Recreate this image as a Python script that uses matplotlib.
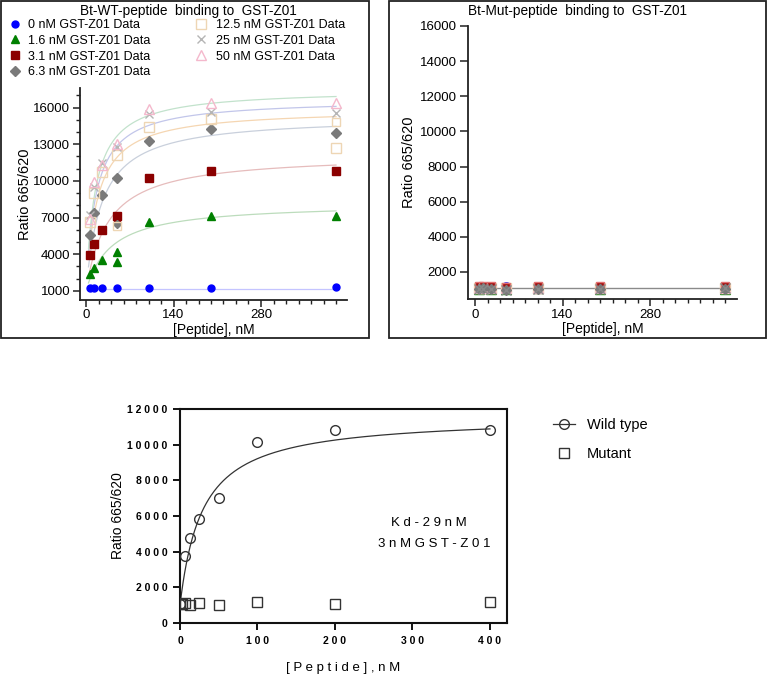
import numpy as np
import matplotlib
matplotlib.use("Agg")
import matplotlib.pyplot as plt
from matplotlib.lines import Line2D
from matplotlib.patches import Rectangle
from matplotlib.ticker import FixedLocator, FuncFormatter

plt.rcParams['font.family'] = ['Liberation Sans', 'DejaVu Sans']

# ---------------- data ----------------
peptide_nM = [6.25, 12.5, 25, 50, 100, 200, 400]

series_labels = ["0 nM GST-Z01 Data", "1.6 nM GST-Z01 Data", "3.1 nM GST-Z01 Data",
                 "6.3 nM GST-Z01 Data", "12.5 nM GST-Z01 Data", "25 nM GST-Z01 Data",
                 "50 nM GST-Z01 Data"]

# WT peptide (top-left)
wt_0nM = [1250, 1250, 1250, 1270, 1250, 1250, 1300]
wt_1p6nM = [2400, 2850, 3500, 4200, 6600, 7100, 7100]
wt_3p1nM = [3900, 4850, 5950, 7100, 10250, 10850, 10850]
wt_6p3nM = [5600, 7350, 8850, 10250, 13300, 14250, 13950]
wt_12p5nM = [6650, 9000, 10750, 12100, 14400, 15100, 12700]
wt_25nM = [7200, 9500, 11450, 12800, 15500, 15650, 15550]
wt_50nM = [6900, 9950, 11300, 13050, 15850, 16350, 16350]
# replicate points that fall off the main trend
rep_x = [50, 50, 50, 50, 400]
rep_y = [3400, 6950, 6500, 6300, 14800]
rep_series = [1, 2, 3, 4, 4]

# one-site fit parameters (bottom, Bmax, Kd) per series
fit_bottom = [1150, 1000, 1000, 1000, 1000, 1000, 1000]
fit_bmax = [0, 7200, 11200, 14300, 14900, 15700, 16500]
fit_kd = [1, 40, 35, 25, 18, 16, 15]

# Mutant peptide (top-right)
mut_0nM = [1150, 1150, 1150, 1180, 1150, 1150, 1160]
mut_1p6nM = [1050, 1060, 1050, 1040, 1060, 1050, 1050]
mut_3p1nM = [1200, 1210, 1200, 1150, 1220, 1180, 1220]
mut_6p3nM = [1050, 1060, 1040, 1000, 1050, 1040, 1050]
mut_12p5nM = [1100, 1100, 1100, 1080, 1100, 1100, 1100]
mut_25nM = [1050, 1040, 1050, 1000, 1050, 1050, 1060]
mut_50nM = [1100, 1100, 1100, 1080, 1100, 1100, 1100]
mut_fit_level = 1100

# Bottom: 3 nM GST-Z01
wt_x = [0, 6.25, 12.5, 25, 50, 100, 200, 400]
wt_y = [1050, 3750, 4750, 5850, 7000, 10150, 10850, 10850]
mutant_x = [0, 3.125, 6.25, 12.5, 25, 50, 100, 200, 400]
mutant_y = [1080, 1080, 1100, 1020, 1130, 1030, 1170, 1060, 1150]
kd_bottom, kd_bmax, kd_value = 1000, 10600, 29

# ---------------- styles ----------------
markers = ['o', '^', 's', 'D', 's', 'x', '^']
face = ['#0000ff', '#008000', '#8b0000', '#7a7a7a', 'none', '#b5b5b5', 'none']
edge = ['#0000ff', '#008000', '#8b0000', '#7a7a7a', '#eed6b4', '#b5b5b5', '#f4b8cc']
msize = [5, 6, 5.5, 4.8, 7, 6, 7]
curve_col = ['#c4c4ff', '#bcdcbc', '#e6bcbc', '#c9d0dc', '#f5d6b2', '#c2c6ea', '#c2e2cc']

W, H = 768, 674
fig = plt.figure(figsize=(W / 100, H / 100), dpi=100)


def fx(px):
    return px / W


def fy(py):
    return 1 - py / H


# panel frames
for (x0, x1) in [(1, 369), (389, 766)]:
    fig.patches.append(Rectangle((fx(x0), fy(338)), fx(x1 - x0), (337) / H,
                                 transform=fig.transFigure, fill=False,
                                 edgecolor='#222222', lw=1.3))


def style_top(ax):
    for s in ['top', 'right']:
        ax.spines[s].set_visible(False)
    for s in ['left', 'bottom']:
        ax.spines[s].set_linewidth(1.3)
        ax.spines[s].set_color('#222222')
    ax.tick_params(which='major', direction='out', length=5, width=1.1, labelsize=9.5,
                   color='#222222', pad=2)
    ax.tick_params(which='minor', direction='out', length=3, width=1.0, color='#222222')


# ---------- top-left ----------
ax1 = fig.add_axes([fx(80), fy(299.5), fx(267), 211.5 / H])
wt_all = [wt_0nM, wt_1p6nM, wt_3p1nM, wt_6p3nM, wt_12p5nM, wt_25nM, wt_50nM]
xs = np.linspace(4, 400, 300)
for i in range(7):
    yfit = fit_bottom[i] + fit_bmax[i] * xs / (fit_kd[i] + xs)
    ax1.plot(xs, yfit, color=curve_col[i], lw=0.9, zorder=1)
for i in range(7):
    ax1.plot(peptide_nM, wt_all[i], linestyle='none', marker=markers[i], ms=msize[i],
             mfc=face[i], mec=edge[i], mew=1.0, zorder=3)
for xr, yr, si in zip(rep_x, rep_y, rep_series):
    ax1.plot([xr], [yr], linestyle='none', marker=markers[si], ms=msize[si] * 0.9,
             mfc=face[si], mec=edge[si], mew=1.0, zorder=3)
ax1.set_xlim(-9.6, 417.6)
ax1.set_ylim(300, 17600)
ax1.xaxis.set_major_locator(FixedLocator([0, 140, 280]))
ax1.xaxis.set_minor_locator(FixedLocator(list(range(0, 421, 20))))
ax1.yaxis.set_major_locator(FixedLocator([1000, 4000, 7000, 10000, 13000, 16000]))
ax1.yaxis.set_minor_locator(FixedLocator(list(range(1000, 17001, 1000))))
style_top(ax1)
ax1.set_xlabel("[Peptide], nM", fontsize=10, labelpad=1)
ax1.set_ylabel("Ratio 665/620", fontsize=10.5, labelpad=1)
fig.text(fx(188), fy(11), "Bt-WT-peptide  binding to  GST-Z01", ha='center', va='center',
         fontsize=9.8)

handles = [Line2D([0], [0], linestyle='none', marker=markers[i], ms=msize[i],
                  mfc=face[i], mec=edge[i], mew=1.0) for i in range(7)]
leg1 = fig.legend(handles[:4], series_labels[:4], loc='upper left',
                  bbox_to_anchor=(fx(7), fy(19)), frameon=False, fontsize=9,
                  handlelength=1.2, handletextpad=0.5, labelspacing=0.3, borderpad=0,
                  borderaxespad=0)
leg2 = fig.legend(handles[4:], series_labels[4:], loc='upper left',
                  bbox_to_anchor=(fx(193), fy(19)), frameon=False, fontsize=9,
                  handlelength=1.2, handletextpad=0.6, labelspacing=0.3, borderpad=0,
                  borderaxespad=0)

# ---------- top-right ----------
ax2 = fig.add_axes([fx(468), fy(299), fx(269), 273 / H])
mut_all = [mut_0nM, mut_1p6nM, mut_3p1nM, mut_6p3nM, mut_12p5nM, mut_25nM, mut_50nM]
ax2.plot([peptide_nM[0], peptide_nM[-1]], [mut_fit_level, mut_fit_level], color='#8a8a8a',
         lw=1.0, zorder=1)
mut_order = [0, 1, 4, 6, 2, 3, 5]
mut_face = ['#3030ff', '#008000', '#a01010', '#7a7a7a', 'none', '#8a8a8a', 'none']
mut_edge = ['#3030ff', '#008000', '#e07070', '#7a7a7a', '#eed6b4', '#8a8a8a', '#f4b8cc']
for i in mut_order:
    ax2.plot(peptide_nM, mut_all[i], linestyle='none', marker=markers[i], ms=msize[i] + 0.5,
             mfc=mut_face[i], mec=mut_edge[i], mew=1.0, zorder=3)
ax2.set_xlim(-11.2, 419)
ax2.set_ylim(460, 16000)
ax2.xaxis.set_major_locator(FixedLocator([0, 140, 280]))
ax2.xaxis.set_minor_locator(FixedLocator(list(range(0, 421, 20))))
ax2.yaxis.set_major_locator(FixedLocator(list(range(2000, 16001, 2000))))
style_top(ax2)
ax2.tick_params(axis='y', which='major', length=6)
ax2.set_xlabel("[Peptide], nM", fontsize=10, labelpad=1)
ax2.set_ylabel("Ratio 665/620", fontsize=10.5, labelpad=2.5)
fig.text(fx(577), fy(11), "Bt-Mut-peptide  binding to  GST-Z01", ha='center', va='center',
         fontsize=9.8)

# ---------- bottom ----------
ax3 = fig.add_axes([fx(180), fy(623), fx(327), 214 / H])
xb = np.linspace(0, 400, 400)
ax3.plot(xb, kd_bottom + kd_bmax * xb / (kd_value + xb), color='#333333', lw=0.9, zorder=2)
ax3.plot(wt_x, wt_y, linestyle='none', marker='o', ms=7, mfc='none', mec='#333333',
         mew=1.0, zorder=3)
ax3.plot(mutant_x, mutant_y, linestyle='none', marker='s', ms=6.5, mfc='none', mec='#333333',
         mew=1.0, zorder=3)
ax3.set_xlim(0, 422)
ax3.set_ylim(0, 12000)
ax3.xaxis.set_major_locator(FixedLocator([0, 100, 200, 300, 400]))
ax3.yaxis.set_major_locator(FixedLocator(list(range(0, 12001, 2000))))
spaced = FuncFormatter(lambda v, p: " ".join(str(int(round(v)))))
ax3.xaxis.set_major_formatter(spaced)
ax3.yaxis.set_major_formatter(spaced)
for s in ax3.spines.values():
    s.set_linewidth(1.5)
    s.set_color('#111111')
ax3.tick_params(direction='out', length=5, width=1.3, labelsize=7.5, pad=4)
for lab in ax3.get_xticklabels() + ax3.get_yticklabels():
    lab.set_fontweight('bold')
ax3.set_xlabel("[ P e p t i d e ] , n M", fontsize=9.5, labelpad=12)
ax3.set_ylabel("Ratio 665/620", fontsize=10, labelpad=1.5)
ax3.text(0.76, 0.467, "K d - 2 9 n M", transform=ax3.transAxes, ha='center', va='center',
         fontsize=9.5)
ax3.text(0.777, 0.367, "3 n M G S T - Z 0 1", transform=ax3.transAxes, ha='center',
         va='center', fontsize=9.5)

h_wt = Line2D([0], [0], color='#333333', lw=0.9, marker='o', ms=7, mfc='none', mec='#333333')
h_mu = Line2D([0], [0], linestyle='none', marker='s', ms=6.5, mfc='none', mec='#333333')
fig.legend([h_wt, h_mu], ["Wild type", "Mutant"], loc='upper left',
           bbox_to_anchor=(fx(553), fy(418)), frameon=False, fontsize=10.5,
           handlelength=1.5, handletextpad=0.8, labelspacing=1.05, borderpad=0,
           borderaxespad=0)

fig.savefig("out.png", dpi=100)
